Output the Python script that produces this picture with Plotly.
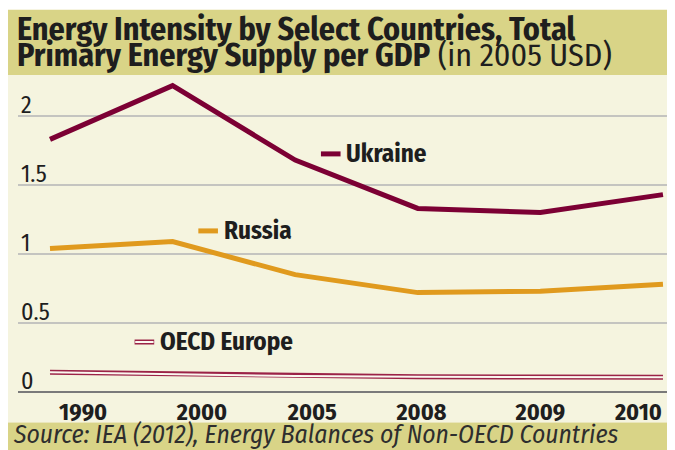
import plotly.graph_objects as go

years = ["1990", "2000", "2005", "2008", "2009", "2010"]
ukraine = [1.83, 2.22, 1.68, 1.33, 1.30, 1.43]
russia = [1.04, 1.09, 0.85, 0.72, 0.73, 0.78]
oecd_europe = [0.143, 0.13, 0.115, 0.11, 0.108, 0.106]
y_ticks = [0, 0.5, 1, 1.5, 2]
y_tick_labels = ["0", "0.5", "1", "1.5", "2"]

# label slots along the x axis (the print version offsets them from the points)
label_pos = [0.27, 1.24, 2.14, 3.03, 4.0, 4.8]

KHAKI = "#d9d487"
CREAM = "#f5f4df"
MAROON = "#7c0034"
OECD_RED = "#9b2347"
ORANGE = "#e09a1e"
TEXT = "#1e1e1e"
FONT = "Fira Sans Condensed, Roboto Condensed, Liberation Sans Narrow, DejaVu Sans Condensed, Open Sans, sans-serif"

x = list(range(len(years)))

fig = go.Figure()
fig.add_trace(go.Scatter(x=x, y=oecd_europe, mode="lines", line=dict(color=OECD_RED, width=5), hoverinfo="skip"))
fig.add_trace(go.Scatter(x=x, y=oecd_europe, mode="lines", line=dict(color="#fbf8f0", width=2), name="OECD Europe"))
fig.add_trace(go.Scatter(x=x, y=russia, mode="lines", line=dict(color=ORANGE, width=5), name="Russia"))
fig.add_trace(go.Scatter(x=x, y=ukraine, mode="lines", line=dict(color=MAROON, width=5), name="Ukraine"))

# card backgrounds (paper coords, plot area is 650 x 317 px)
fig.add_shape(type="rect", xref="paper", yref="paper", x0=-0.03, x1=1.003, y0=1.009, y1=1.215,
              fillcolor=KHAKI, line_width=0, layer="below")
fig.add_shape(type="rect", xref="paper", yref="paper", x0=-0.03, x1=1.003, y0=-0.087, y1=1.009,
              fillcolor=CREAM, line_width=0, layer="below")
fig.add_shape(type="rect", xref="paper", yref="paper", x0=-0.03, x1=1.003, y0=-0.2, y1=-0.087,
              fillcolor=KHAKI, line_width=0, layer="below")

# inline series labels
def series_label(x0, y0, text, color, hollow=False):
    if hollow:
        fig.add_shape(type="line", x0=x0, x1=x0 + 0.16, y0=y0, y1=y0, line=dict(color=OECD_RED, width=5))
        fig.add_shape(type="line", x0=x0 + 0.005, x1=x0 + 0.155, y0=y0, y1=y0, line=dict(color="#fbf8f0", width=2))
    else:
        fig.add_shape(type="line", x0=x0, x1=x0 + 0.16, y0=y0, y1=y0, line=dict(color=color, width=5))
    fig.add_annotation(x=x0 + 0.19, y=y0, text="<b>" + text + "</b>", showarrow=False, xanchor="left",
                       yanchor="middle", font=dict(size=25, color=TEXT, family=FONT))

series_label(2.21, 1.725, "Ukraine", MAROON)
series_label(1.21, 1.167, "Russia", ORANGE)
series_label(0.69, 0.362, "OECD Europe", None, hollow=True)

fig.add_annotation(xref="paper", yref="paper", x=-0.004, y=1.155, xanchor="left", yanchor="middle", showarrow=False,
                   text="<b>Energy Intensity by Select Countries, Total</b>",
                   font=dict(size=32, color=TEXT, family=FONT))
fig.add_annotation(xref="paper", yref="paper", x=-0.004, y=1.071, xanchor="left", yanchor="middle", showarrow=False,
                   text="<b>Primary Energy Supply per GDP</b> (in 2005 USD)",
                   font=dict(size=32, color=TEXT, family=FONT))
fig.add_annotation(xref="paper", yref="paper", x=-0.011, y=-0.126, xanchor="left", yanchor="middle", showarrow=False,
                   text="<i>Source: IEA (2012), Energy Balances of Non-OECD Countries</i>",
                   font=dict(size=25.5, color="#2e2e2e", family=FONT))

fig.update_layout(
    width=667, height=442,
    margin=dict(l=10, r=7, t=70, b=55),
    paper_bgcolor="white",
    plot_bgcolor="rgba(0,0,0,0)",
    showlegend=False,
    xaxis=dict(
        range=[-0.261, 5.041],
        tickmode="array",
        tickvals=label_pos,
        ticktext=["<b>" + y + "</b>" for y in years],
        tickfont=dict(size=24, color=TEXT, family=FONT),
        showgrid=False, showline=False, zeroline=False, ticks="",
    ),
    yaxis=dict(
        range=[-0.022, 2.275],
        tickmode="array",
        tickvals=y_ticks,
        ticktext=y_tick_labels,
        ticklabelposition="inside top",
        ticklabelshift=5,
        tickfont=dict(size=24, color=TEXT, family=FONT),
        showgrid=True, gridcolor="#c4c4c0", gridwidth=2,
        zeroline=True, zerolinecolor="#7a7a7a", zerolinewidth=2,
        showline=False, ticks="",
    ),
)

fig.write_html("out.html")
